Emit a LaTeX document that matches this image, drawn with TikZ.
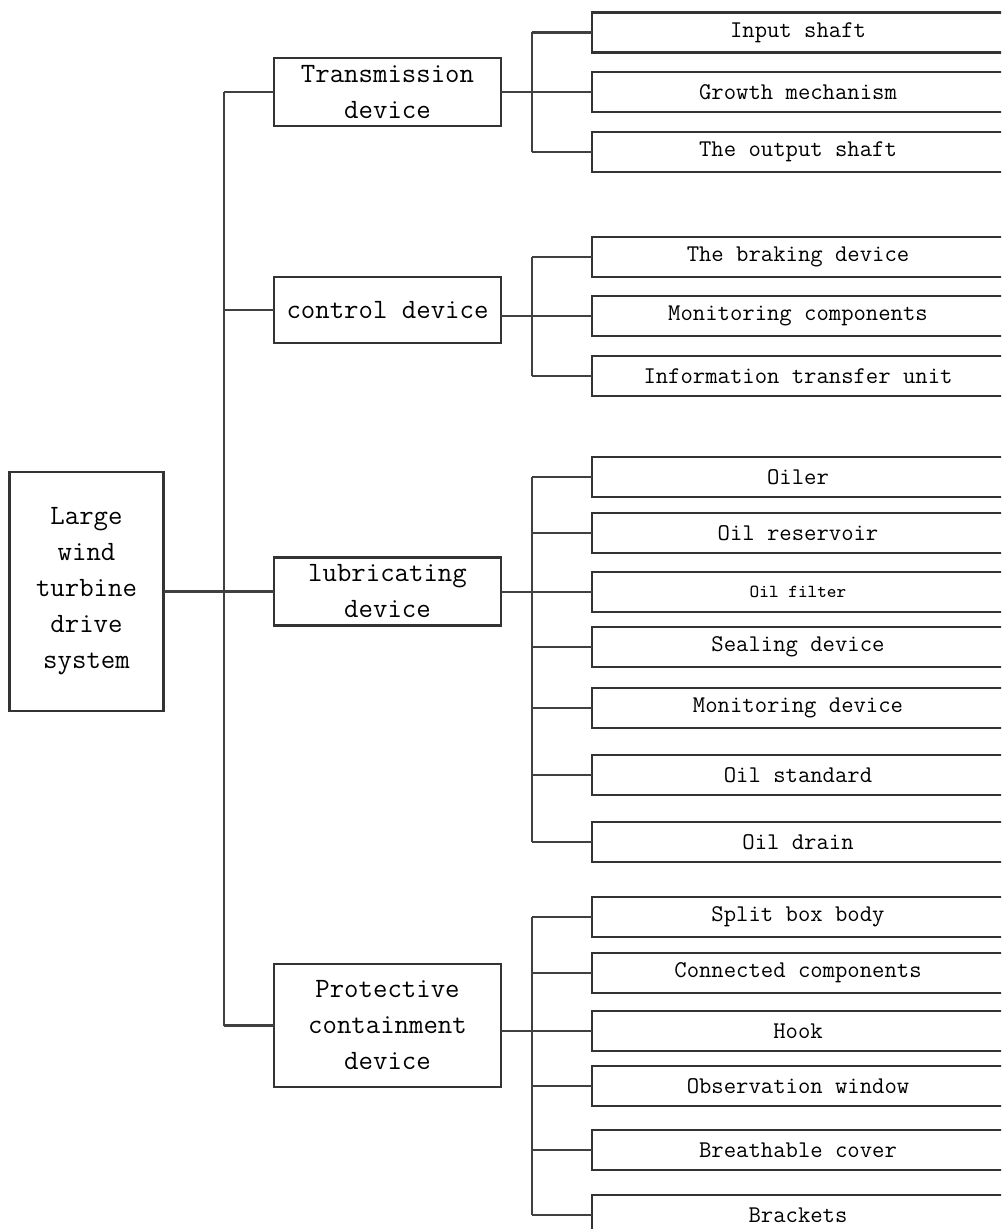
\documentclass[tikz,border=0pt]{standalone}
\usepackage{fontspec}

\begin{document}
\begin{tikzpicture}[x=0.5pt,y=-0.5pt,
		box/.style={draw=black!80,line width=1.1pt,inner sep=0pt,outer sep=0pt,align=center,
			font=\ttfamily\fontsize{14}{18}\selectfont},
		mid/.style={box,minimum width=113.5pt},
		leaf/.style={box,minimum width=206pt,minimum height=20pt,
			font=\ttfamily\fontsize{12}{14}\selectfont},
		link/.style={draw=black!75,line width=1.1pt}]
	% Page frame, the leaf boxes run past its right edge
	\useasboundingbox (0,0) rectangle (1001,1229);
	\clip (0,0) rectangle (1001,1229);
	\coordinate (spine) at (224,0);
	\coordinate (bus) at (532,0);
	% Root and the four devices
	\node[box,minimum width=77pt,minimum height=119.5pt] (root) at (86.5,591.5) {Large\\wind\\turbine\\drive\\system};
	\node[mid,minimum height=34pt] (trans) at (387.5,92) {Transmission\\device};
	\node[mid,minimum height=33pt] (ctrl) at (387.5,310) {control device};
	\node[mid,minimum height=34pt] (lub) at (387.5,591.5) {lubricating\\device};
	\node[mid,minimum height=61.5pt] (prot) at (387.5,1025.5) {Protective\\containment\\device};
	% Parts of the transmission device
	\node[leaf] (inshaft) at (798,32.5) {Input shaft};
	\node[leaf] (growth) at (798,92) {Growth mechanism};
	\node[leaf] (outshaft) at (798,152) {The output shaft};
	% Parts of the control device
	\node[leaf] (braking) at (798,257) {The braking device};
	\node[leaf] (moncomp) at (798,316) {Monitoring components};
	\node[leaf] (infotrans) at (798,376) {Information transfer unit};
	% Parts of the lubricating device
	\node[leaf] (oiler) at (798,477) {Oiler};
	\node[leaf] (reservoir) at (798,533) {Oil reservoir};
	\node[leaf,font=\ttfamily\fontsize{9.2}{11}\selectfont] (filter) at (798,592) {Oil filter};
	\node[leaf] (sealing) at (798,647) {Sealing device};
	\node[leaf] (mondev) at (798,708) {Monitoring device};
	\node[leaf] (oilstd) at (798,775) {Oil standard};
	\node[leaf] (drain) at (798,842) {Oil drain};
	% Parts of the protective containment device
	\node[leaf] (splitbox) at (798,917) {Split box body};
	\node[leaf] (conncomp) at (798,973) {Connected components};
	\node[leaf] (hook) at (798,1031) {Hook};
	\node[leaf] (window) at (798,1086) {Observation window};
	\node[leaf] (breath) at (798,1150) {Breathable cover};
	\node[leaf] (brackets) at (798,1215) {Brackets};
	% Main spine
	\draw[link] (root.east) -- (lub.west);
	\draw[link] (spine |- trans.west) -- (spine |- prot.west);
	\draw[link] (spine |- trans.west) -- (trans.west);
	\draw[link] (spine |- ctrl.west) -- (ctrl.west);
	\draw[link] (spine |- prot.west) -- (prot.west);
	% Transmission branch
	\draw[link] (trans.east) -- (growth.west);
	\draw[link] (bus |- inshaft.west) -- (bus |- outshaft.west);
	\draw[link] (bus |- inshaft.west) -- (inshaft.west);
	\draw[link] (bus |- outshaft.west) -- (outshaft.west);
	% Control branch
	\draw[link] (ctrl.east |- moncomp.west) -- (moncomp.west);
	\draw[link] (bus |- braking.west) -- (bus |- infotrans.west);
	\draw[link] (bus |- braking.west) -- (braking.west);
	\draw[link] (bus |- infotrans.west) -- (infotrans.west);
	% Lubricating branch
	\draw[link] (lub.east |- filter.west) -- (filter.west);
	\draw[link] (bus |- oiler.west) -- (bus |- drain.west);
	\draw[link] (bus |- oiler.west) -- (oiler.west);
	\draw[link] (bus |- reservoir.west) -- (reservoir.west);
	\draw[link] (bus |- sealing.west) -- (sealing.west);
	\draw[link] (bus |- mondev.west) -- (mondev.west);
	\draw[link] (bus |- oilstd.west) -- (oilstd.west);
	\draw[link] (bus |- drain.west) -- (drain.west);
	% Protective branch
	\draw[link] (prot.east |- hook.west) -- (hook.west);
	\draw[link] (bus |- splitbox.west) -- (bus |- brackets.west);
	\draw[link] (bus |- splitbox.west) -- (splitbox.west);
	\draw[link] (bus |- conncomp.west) -- (conncomp.west);
	\draw[link] (bus |- window.west) -- (window.west);
	\draw[link] (bus |- breath.west) -- (breath.west);
	\draw[link] (bus |- brackets.west) -- (brackets.west);
\end{tikzpicture}
\end{document}
